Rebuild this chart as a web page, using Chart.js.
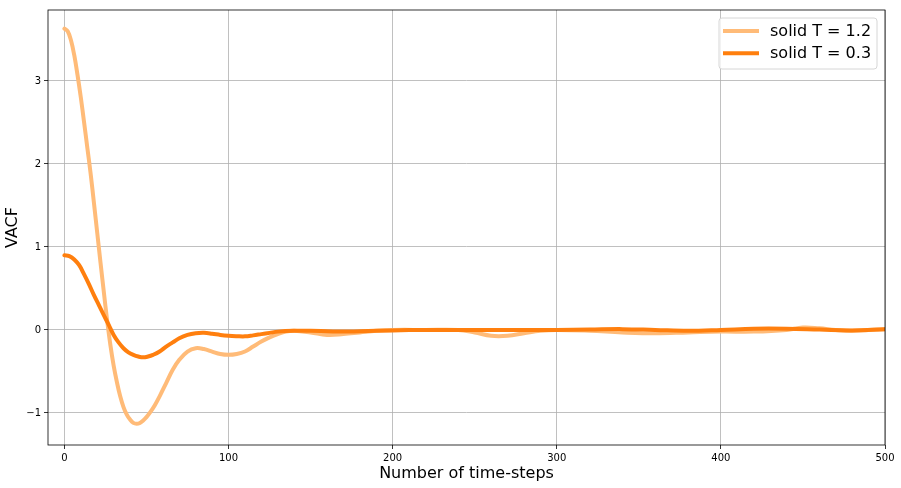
<!DOCTYPE html>
<html><head><meta charset="utf-8">
<script src="https://cdn.jsdelivr.net/npm/chart.js@4/dist/chart.umd.min.js"></script>
<style>html,body{margin:0;padding:0;background:#fff;}</style>
</head><body>
<canvas id="c" width="901" height="488"></canvas>
<script>
// ---- data ----
const seriesLabels = ['solid T = 1.2', 'solid T = 0.3'];
const xHot = [0,2,4,6,8,10,12,14,16,18,20,22,24,26,28,30,32,34,36,38,40,42,44,46,48,50,52,55,58,62,66,70,75,80,85,90,95,100,105,110,115,120,125,130,135,140,150,160,170,180,190,200,220,240,250,260,270,280,290,300,320,340,360,380,400,420,440,450,460,470,480,490,500];
const yHot = [3.63,3.60,3.49,3.31,3.07,2.80,2.50,2.19,1.88,1.53,1.17,0.81,0.46,0.12,-0.18,-0.43,-0.63,-0.80,-0.93,-1.02,-1.08,-1.12,-1.13,-1.12,-1.09,-1.05,-1.00,-0.91,-0.80,-0.64,-0.48,-0.36,-0.26,-0.22,-0.23,-0.26,-0.29,-0.30,-0.29,-0.26,-0.20,-0.14,-0.09,-0.05,-0.02,-0.01,-0.03,-0.06,-0.05,-0.03,-0.01,0.0,0.0,0.0,-0.03,-0.07,-0.07,-0.04,-0.01,0.0,-0.01,-0.03,-0.04,-0.03,-0.02,-0.02,0.0,0.03,0.02,0.0,-0.01,0.0,0.01];
const xCold = [0,3,6,9,12,15,18,21,24,27,30,33,36,39,42,45,48,51,54,58,62,66,70,75,80,85,90,95,100,105,110,115,120,125,130,140,150,160,170,180,200,220,250,280,300,320,340,360,380,400,420,440,460,480,500];
const yCold = [0.90,0.89,0.85,0.78,0.67,0.55,0.42,0.30,0.18,0.06,-0.06,-0.15,-0.22,-0.27,-0.30,-0.32,-0.33,-0.32,-0.30,-0.26,-0.20,-0.15,-0.10,-0.06,-0.04,-0.035,-0.045,-0.06,-0.07,-0.075,-0.077,-0.065,-0.05,-0.035,-0.02,-0.01,-0.01,-0.015,-0.02,-0.015,-0.005,0.0,0.0,0.0,0.0,0.005,0.01,0.0,-0.01,0.0,0.015,0.015,0.005,-0.005,0.01];
const xTicks = [0,100,200,300,400,500];
const yTicks = [-1,0,1,2,3];
const xLabel = 'Number of time-steps';
const yLabel = 'VACF';

const toPts = (xs, ys) => xs.map((x, i) => ({x: x, y: ys[i]}));
const FONT = 'DejaVu Sans';

const framePlugin = {
  id: 'frame',
  afterDatasetsDraw(chart) {
    const a = chart.chartArea, ctx = chart.ctx;
    ctx.save();
    ctx.strokeStyle = '#000';
    ctx.lineWidth = 0.8;
    ctx.strokeRect(a.left, a.top, a.right - a.left, a.bottom - a.top);
    ctx.restore();
  }
};

const legendPlugin = {
  id: 'mplLegend',
  afterDraw(chart) {
    const a = chart.chartArea, ctx = chart.ctx;
    const w = 158, h = 51;
    const bx = a.right - 8 - w, by = a.top + 8;
    ctx.save();
    ctx.beginPath();
    const r = 3;
    ctx.moveTo(bx + r, by);
    ctx.arcTo(bx + w, by, bx + w, by + h, r);
    ctx.arcTo(bx + w, by + h, bx, by + h, r);
    ctx.arcTo(bx, by + h, bx, by, r);
    ctx.arcTo(bx, by, bx + w, by, r);
    ctx.closePath();
    ctx.fillStyle = 'rgba(255,255,255,0.8)';
    ctx.fill();
    ctx.strokeStyle = '#d6d6d6';
    ctx.lineWidth = 1;
    ctx.stroke();
    ctx.font = '16px "' + FONT + '"';
    ctx.textBaseline = 'middle';
    ctx.fillStyle = '#000';
    chart.data.datasets.forEach((ds, i) => {
      const y = by + 13 + i * 22.3;
      ctx.beginPath();
      ctx.strokeStyle = ds.borderColor;
      ctx.lineWidth = ds.borderWidth;
      ctx.moveTo(bx + 4, y);
      ctx.lineTo(bx + 40, y);
      ctx.stroke();
      ctx.fillText(ds.label, bx + 51, y + 1);
    });
    ctx.restore();
  }
};

const axisCommon = {
  grid: { color: '#b0b0b0', lineWidth: 0.8, tickLength: 4, tickColor: '#000', drawTicks: true },
  border: { display: false },
};

new Chart(document.getElementById('c'), {
  type: 'line',
  data: {
    datasets: [
      { label: seriesLabels[0], data: toPts(xHot, yHot), borderColor: '#ffbb78', borderWidth: 4,
        pointRadius: 0, tension: 0.4, borderJoinStyle: 'round', borderCapStyle: 'round', order: 2 },
      { label: seriesLabels[1], data: toPts(xCold, yCold), borderColor: '#ff7f0e', borderWidth: 4,
        pointRadius: 0, tension: 0.4, borderJoinStyle: 'round', borderCapStyle: 'round', order: 1 }
    ]
  },
  options: {
    responsive: false,
    animation: false,
    devicePixelRatio: 1,
    layout: { padding: { left: 0, right: 16, top: 10, bottom: 0 } },
    plugins: { legend: { display: false }, tooltip: { enabled: false } },
    scales: {
      x: Object.assign({}, axisCommon, {
        type: 'linear', min: -10, max: 500,
        afterBuildTicks: s => { s.ticks = xTicks.map(v => ({value: v})); },
        afterFit: s => { s.height = 43; },
        ticks: { font: { family: FONT, size: 10 }, color: '#000', padding: 3, maxRotation: 0 },
        title: { display: true, text: xLabel, color: '#000', font: { family: FONT, size: 16 }, padding: { top: 0, bottom: 5 } }
      }),
      y: Object.assign({}, axisCommon, {
        type: 'linear', min: -1.386, max: 3.855,
        afterBuildTicks: s => { s.ticks = yTicks.map(v => ({value: v})); },
        afterFit: s => { s.width = 48; },
        ticks: { font: { family: FONT, size: 10 }, color: '#000', padding: 3,
                 callback: v => String(v).replace('-', '\u2212') },
        title: { display: true, text: yLabel, color: '#000', font: { family: FONT, size: 16 }, padding: { top: 3, bottom: 0 } }
      })
    }
  },
  plugins: [framePlugin, legendPlugin]
});
</script>
</body></html>
